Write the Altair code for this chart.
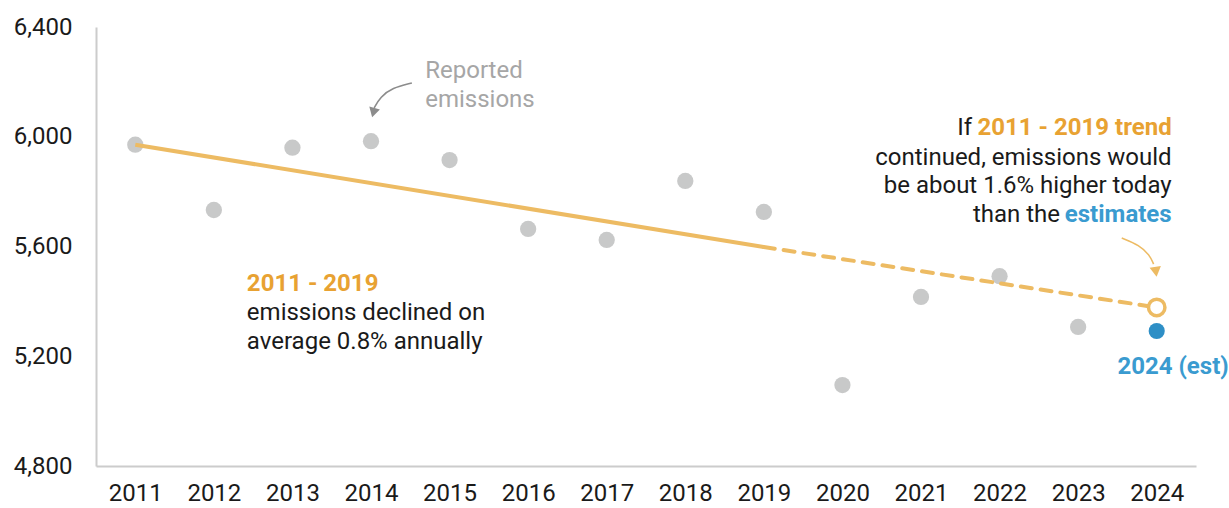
import altair as alt
import pandas as pd

FONT = "Roboto"
ORANGE_LINE = "#EDBB63"
ORANGE_TEXT = "#E8A232"
BLUE = "#2E8FC6"
BLUE_TEXT = "#3A9BD0"
GRAY_PT = "#C8C9C9"
GRAY_TXT = "#A6A6A6"
BLACK = "#1A1A1A"
FS = 24

# ---- data ----
years = [2011, 2012, 2013, 2014, 2015, 2016, 2017, 2018, 2019, 2020, 2021, 2022, 2023]
emissions = [5971, 5733, 5960, 5984, 5915, 5664, 5624, 5839, 5726, 5095, 5416, 5492, 5307]
est_year = [2024]
est_value = [5292]
trend_solid_years = [2011, 2019]
trend_solid_values = [5971, 5598]
trend_dash_years = [2019, 2024]
trend_dash_values = [5598, 5378]
trend_end_year = [2024]
trend_end_value = [5378]

x_ticks = [2011, 2012, 2013, 2014, 2015, 2016, 2017, 2018, 2019, 2020, 2021, 2022, 2023, 2024]
y_ticks = [4800, 5200, 5600, 6000, 6400]

# annotation arrows (data space)
gray_arrow_x = [2014.52, 2014.27, 2014.12, 2014.04]
gray_arrow_y = [6196, 6178, 6145, 6105]
gray_head_x = [2014.03]
gray_head_y = [6088]
orange_arrow_x = [2023.555, 2023.78, 2023.91, 2023.96]
orange_arrow_y = [5631, 5605, 5569, 5536]
orange_head_x = [2023.99]
orange_head_y = [5508]

xs = alt.Scale(domain=[2010.5, 2024.5], nice=False, zero=False)
ys = alt.Scale(domain=[4800, 6400], nice=False, zero=False)

X = alt.X("x:Q", scale=xs, axis=alt.Axis(values=x_ticks, format="d", title=None, ticks=False,
                                           grid=False, labelFontSize=FS, labelPadding=15,
                                           labelColor=BLACK, labelFont=FONT, domainColor="#CCCCCC",
                                           domainWidth=2, labelFlush=False))
Y = alt.Y("y:Q", scale=ys, axis=alt.Axis(values=y_ticks, format=",d", title=None, ticks=False,
                                           grid=False, labelFontSize=FS, labelPadding=24,
                                           labelColor=BLACK, labelFont=FONT, domainColor="#CCCCCC",
                                           domainWidth=2, labelFlush=False))
Xn = alt.X("x:Q", scale=xs)
Yn = alt.Y("y:Q", scale=ys)

pts = alt.Chart(pd.DataFrame({"x": years, "y": emissions})).mark_circle(
    size=265, color=GRAY_PT, opacity=1).encode(x=X, y=Y)

solid = alt.Chart(pd.DataFrame({"x": trend_solid_years, "y": trend_solid_values})).mark_line(
    color=ORANGE_LINE, strokeWidth=4).encode(x=Xn, y=Yn)
dashed = alt.Chart(pd.DataFrame({"x": trend_dash_years, "y": trend_dash_values})).mark_line(
    color=ORANGE_LINE, strokeWidth=4, strokeDash=[11, 9], strokeCap="round").encode(x=Xn, y=Yn)

est = alt.Chart(pd.DataFrame({"x": est_year, "y": est_value})).mark_circle(
    size=260, color=BLUE, opacity=1).encode(x=Xn, y=Yn)
open_pt = alt.Chart(pd.DataFrame({"x": trend_end_year, "y": trend_end_value})).mark_point(
    size=270, shape="circle", filled=True, fill="white", stroke=ORANGE_LINE, strokeWidth=3.5,
    opacity=1).encode(x=Xn, y=Yn)

garrow = alt.Chart(pd.DataFrame({"x": gray_arrow_x, "y": gray_arrow_y, "o": [0, 1, 2, 3]})).mark_line(
    color="#8C8C8C", strokeWidth=1.6, interpolate="basis").encode(x=Xn, y=Yn, order="o:Q")
ghead = alt.Chart(pd.DataFrame({"x": gray_head_x, "y": gray_head_y})).mark_point(
    shape="triangle-down", size=120, filled=True, color="#8C8C8C", opacity=1, angle=15).encode(x=Xn, y=Yn)
oarrow = alt.Chart(pd.DataFrame({"x": orange_arrow_x, "y": orange_arrow_y, "o": [0, 1, 2, 3]})).mark_line(
    color=ORANGE_LINE, strokeWidth=1.6, interpolate="basis").encode(x=Xn, y=Yn, order="o:Q")
ohead = alt.Chart(pd.DataFrame({"x": orange_head_x, "y": orange_head_y})).mark_point(
    shape="triangle-down", size=130, filled=True, color=ORANGE_LINE, opacity=1, angle=352).encode(x=Xn, y=Yn)

# ---- text annotations ----
gray_text = ["Reported", "emissions"]
gray_text_x = [2014.69, 2014.69]
gray_text_y = [6240, 6134]

left_bold = ["2011 - 2019"]
left_bold_x = [2012.42]
left_bold_y = [5463]
left_text = ["emissions declined on", "average 0.8% annually"]
left_text_x = [2012.42, 2012.42]
left_text_y = [5358, 5252]

right_text = ["If", "continued, emissions would", "be about 1.6% higher today", "than the"]
right_text_x = [2021.65, 2024.19, 2024.19, 2022.77]
right_text_y = [6031, 5923, 5821, 5715]
right_orange = ["2011 - 2019 trend"]
right_orange_x = [2024.19]
right_orange_y = [6031]
right_blue = ["estimates"]
right_blue_x = [2024.19]
right_blue_y = [5715]

est_label = ["2024 (est)"]
est_label_x = [2023.50]
est_label_y = [5161]


def txt(texts, xv, yv, color, align, bold=False):
    return alt.Chart(pd.DataFrame({"x": xv, "y": yv, "t": texts})).mark_text(
        font=FONT, fontSize=FS, color=color, align=align, baseline="middle",
        fontWeight="bold" if bold else "normal").encode(x=Xn, y=Yn, text="t:N")


texts = [
    txt(gray_text, gray_text_x, gray_text_y, GRAY_TXT, "left"),
    txt(left_bold, left_bold_x, left_bold_y, ORANGE_TEXT, "left", True),
    txt(left_text, left_text_x, left_text_y, BLACK, "left"),
    txt(right_text, right_text_x, right_text_y, BLACK, "right"),
    txt(right_orange, right_orange_x, right_orange_y, ORANGE_TEXT, "right", True),
    txt(right_blue, right_blue_x, right_blue_y, BLUE_TEXT, "right", True),
    txt(est_label, est_label_x, est_label_y, BLUE_TEXT, "left", True),
]

chart = alt.layer(pts, solid, dashed, garrow, ghead, oarrow, ohead, open_pt, est, *texts).properties(
    width=1100, height=439,
    autosize=alt.AutoSizeParams(type="none"),
    padding={"left": 96, "top": 27, "right": 33, "bottom": 42},
).configure(background="white", view=alt.ViewConfig(stroke=None))

chart.save("out.html", embed_options={"renderer": "svg", "actions": False})
